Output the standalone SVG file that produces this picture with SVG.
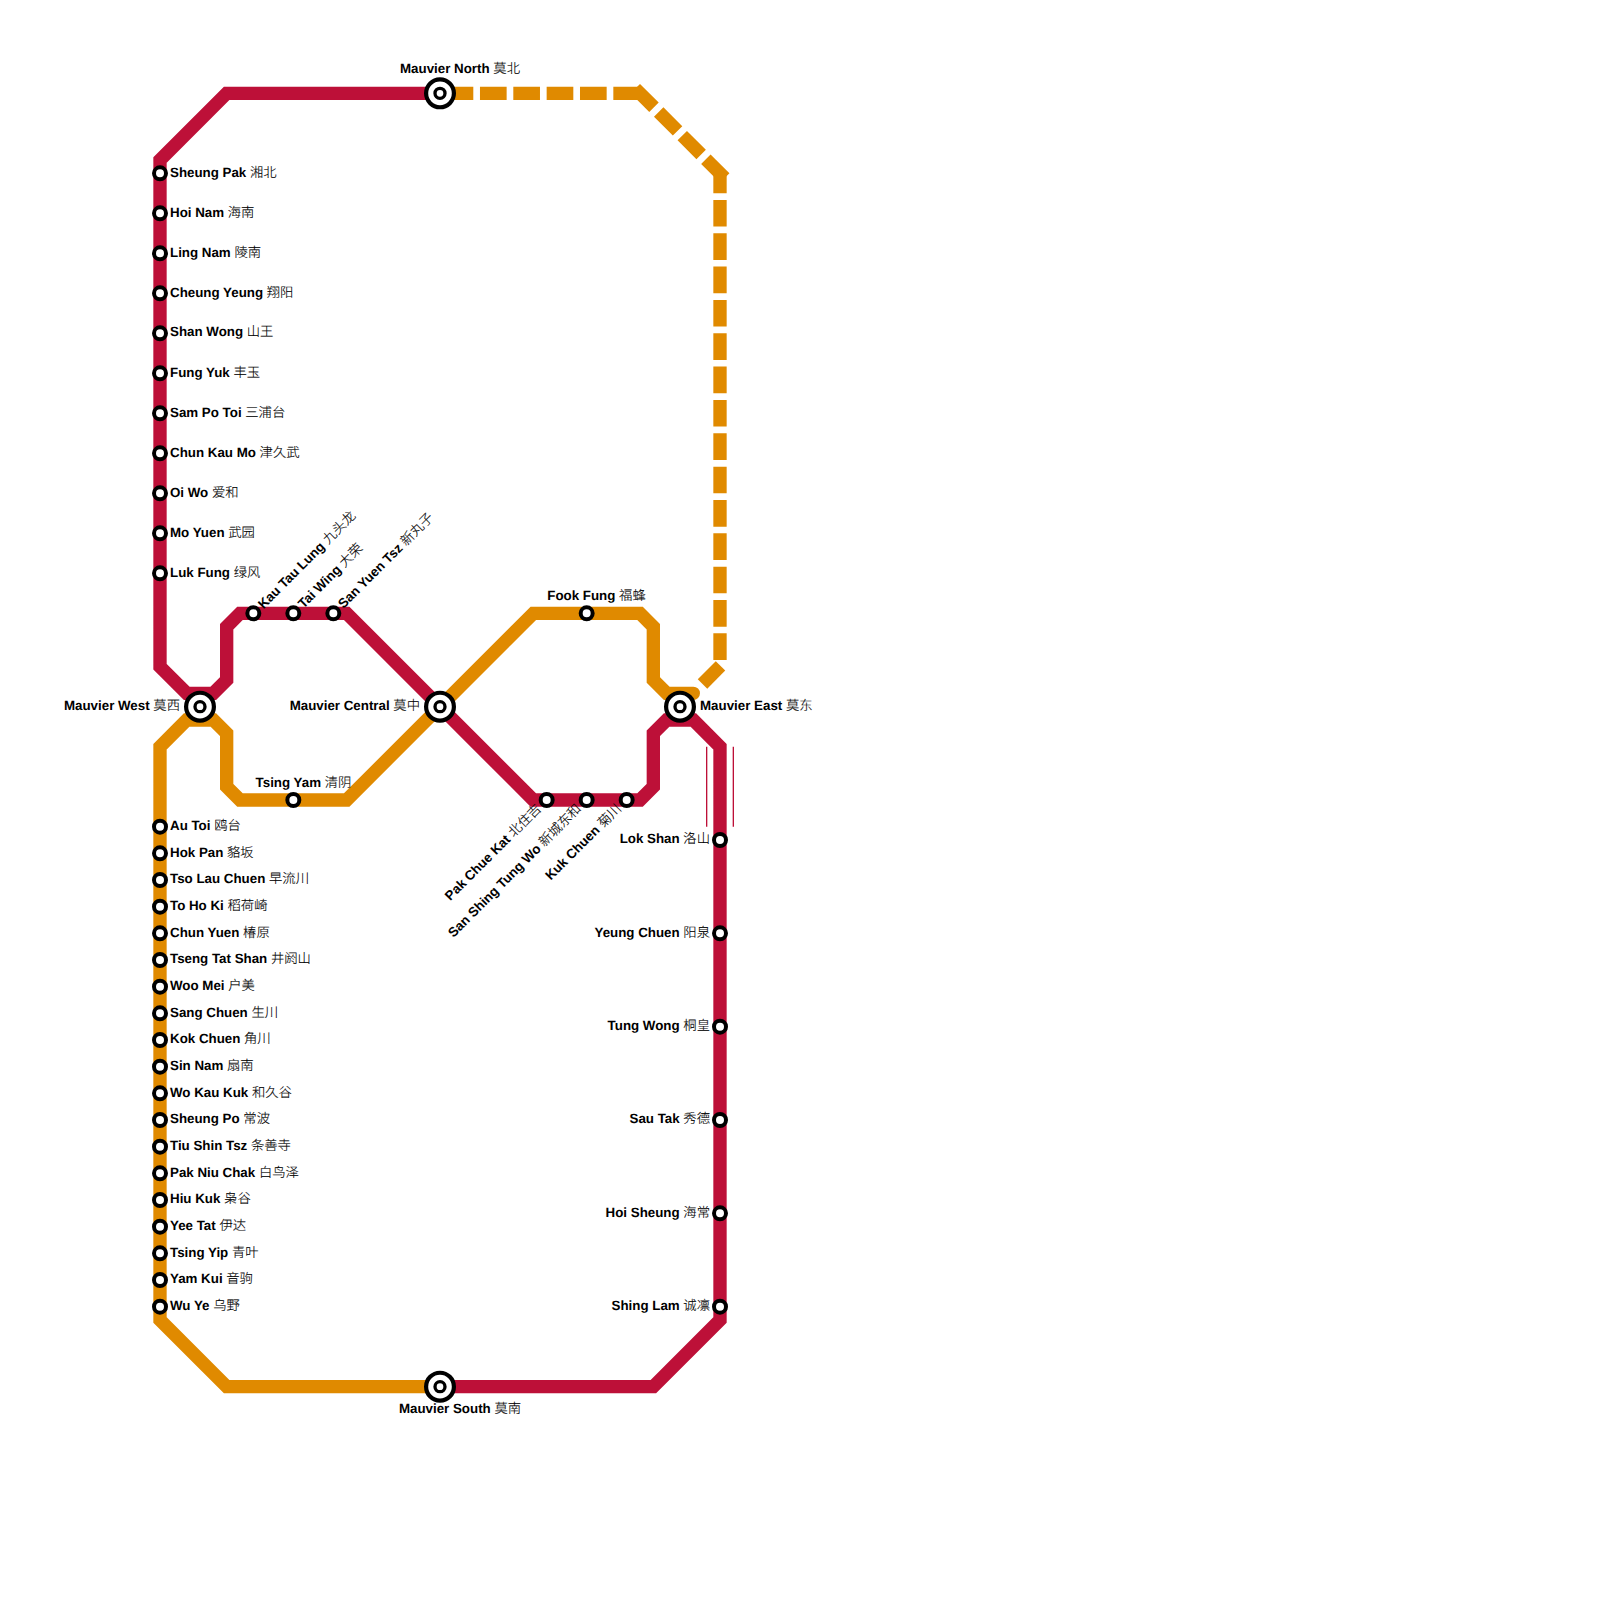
<svg xmlns="http://www.w3.org/2000/svg" width="1600" height="1600" viewBox="0 0 1600 1600">
<style>
.bg{fill:#fff}
.r,.o,.od{fill:none;stroke-width:13.33;stroke-linejoin:miter}
.r{stroke:#bd1038}
.o,.od{stroke:#e08a00}
.o{stroke-linecap:round}
.od{stroke-dasharray:26.67 6.67}
.thin{fill:none;stroke:#bd1038;stroke-width:1.33}
.s{fill:#fff;stroke:#000;stroke-width:4}
.i1{fill:#fff;stroke:#000;stroke-width:4.2}
.i2{fill:#fff;stroke:#000;stroke-width:3.33}
text{font-family:"Liberation Sans","Noto Sans CJK SC",sans-serif;font-size:13.33px;fill:#000;text-rendering:geometricPrecision}
.b{font-weight:700}
.c{font-family:"Noto Sans CJK SC","Liberation Sans",sans-serif;font-weight:300;stroke:#000;stroke-width:.12}
.e{text-anchor:end}
.m{text-anchor:middle}
</style>
<rect class="bg" width="1600" height="1600"/>
<g id="connectors">
<path class="r" d="M440 93.33H226.67L160 160V666.67L186.67 693.33H213.33L226.67 680V626.67L240 613.33H346.67L533.33 800H640L653.33 786.67V733.33L666.67 720H693.33L720 746.67V1320L653.33 1386.67H440"/>
<path class="o" d="M440 1386.67H226.67L160 1320V746.67L186.67 720H213.33L226.67 733.33V786.67L240 800H346.67L533.33 613.33H640L653.33 626.67V680L666.67 693.33H693.33"/>
<path class="od" d="M640 93.33H440"/>
<path class="od" d="M724.71 178.04L635.29 88.62"/>
<path class="od" d="M720 660V173.33"/>
<path class="od" d="M720.5 665.85L702.5 684"/>
<path class="thin" d="M706.67 746.67V826.67M733.33 746.67V826.67"/>
</g>
<g id="st-north"><circle class="i1" cx="440" cy="93.33" r="13.9"/><circle class="i2" cx="440" cy="93.33" r="5"/><text class="b m" x="460" y="73">Mauvier North <tspan class="c">莫北</tspan></text></g>
<g id="st-south"><circle class="i1" cx="440" cy="1386.67" r="13.9"/><circle class="i2" cx="440" cy="1386.67" r="5"/><text class="b m" x="460" y="1413">Mauvier South <tspan class="c">莫南</tspan></text></g>
<g id="st-west"><circle class="i1" cx="200" cy="706.67" r="13.9"/><circle class="i2" cx="200" cy="706.67" r="5"/><text class="b e" x="180" y="710">Mauvier West <tspan class="c">莫西</tspan></text></g>
<g id="st-central"><circle class="i1" cx="440" cy="706.67" r="13.9"/><circle class="i2" cx="440" cy="706.67" r="5"/><text class="b e" x="420" y="710">Mauvier Central <tspan class="c">莫中</tspan></text></g>
<g id="st-east"><circle class="i1" cx="680" cy="706.67" r="13.9"/><circle class="i2" cx="680" cy="706.67" r="5"/><text class="b" x="700" y="710">Mauvier East <tspan class="c">莫东</tspan></text></g>
<g id="st-sheung-pak"><circle class="s" cx="160" cy="173.33" r="6"/><text class="b" x="170" y="177">Sheung Pak <tspan class="c">湘北</tspan></text></g>
<g id="st-hoi-nam"><circle class="s" cx="160" cy="213.33" r="6"/><text class="b" x="170" y="217">Hoi Nam <tspan class="c">海南</tspan></text></g>
<g id="st-ling-nam"><circle class="s" cx="160" cy="253.33" r="6"/><text class="b" x="170" y="257">Ling Nam <tspan class="c">陵南</tspan></text></g>
<g id="st-cheung-yeung"><circle class="s" cx="160" cy="293.33" r="6"/><text class="b" x="170" y="297">Cheung Yeung <tspan class="c">翔阳</tspan></text></g>
<g id="st-shan-wong"><circle class="s" cx="160" cy="333.33" r="6"/><text class="b" x="170" y="336.4">Shan Wong <tspan class="c">山王</tspan></text></g>
<g id="st-fung-yuk"><circle class="s" cx="160" cy="373.33" r="6"/><text class="b" x="170" y="377">Fung Yuk <tspan class="c">丰玉</tspan></text></g>
<g id="st-sam-po-toi"><circle class="s" cx="160" cy="413.33" r="6"/><text class="b" x="170" y="417">Sam Po Toi <tspan class="c">三浦台</tspan></text></g>
<g id="st-chun-kau-mo"><circle class="s" cx="160" cy="453.33" r="6"/><text class="b" x="170" y="457">Chun Kau Mo <tspan class="c">津久武</tspan></text></g>
<g id="st-oi-wo"><circle class="s" cx="160" cy="493.33" r="6"/><text class="b" x="170" y="497">Oi Wo <tspan class="c">爱和</tspan></text></g>
<g id="st-mo-yuen"><circle class="s" cx="160" cy="533.33" r="6"/><text class="b" x="170" y="537">Mo Yuen <tspan class="c">武园</tspan></text></g>
<g id="st-luk-fung"><circle class="s" cx="160" cy="573.33" r="6"/><text class="b" x="170" y="577">Luk Fung <tspan class="c">绿风</tspan></text></g>
<g id="st-kau-tau-lung"><circle class="s" cx="253.33" cy="613.33" r="6"/><text class="b" transform="translate(263.5 609.5) rotate(-45)">Kau Tau Lung <tspan class="c">九头龙</tspan></text></g>
<g id="st-tai-wing"><circle class="s" cx="293.33" cy="613.33" r="6"/><text class="b" transform="translate(303.5 609) rotate(-45)">Tai Wing <tspan class="c">大荣</tspan></text></g>
<g id="st-san-yuen-tsz"><circle class="s" cx="333.33" cy="613.33" r="6"/><text class="b" transform="translate(343.5 609) rotate(-45)">San Yuen Tsz <tspan class="c">新丸子</tspan></text></g>
<g id="st-fook-fung"><circle class="s" cx="586.67" cy="613.33" r="6"/><text class="b m" x="596.5" y="600">Fook Fung <tspan class="c">福蜂</tspan></text></g>
<g id="st-tsing-yam"><circle class="s" cx="293.33" cy="800" r="6"/><text class="b m" x="303.5" y="787">Tsing Yam <tspan class="c">清阴</tspan></text></g>
<g id="st-pak-chue-kat"><circle class="s" cx="546.67" cy="800" r="6"/><text class="b e" transform="translate(542 809.5) rotate(-45)">Pak Chue Kat <tspan class="c">北住吉</tspan></text></g>
<g id="st-san-shing-tung-wo"><circle class="s" cx="586.67" cy="800" r="6"/><text class="b e" transform="translate(582 809.5) rotate(-45)">San Shing Tung Wo <tspan class="c">新城东和</tspan></text></g>
<g id="st-kuk-chuen"><circle class="s" cx="626.67" cy="800" r="6"/><text class="b e" transform="translate(622 809.5) rotate(-45)">Kuk Chuen <tspan class="c">菊川</tspan></text></g>
<g id="st-au-toi"><circle class="s" cx="160" cy="826.67" r="6"/><text class="b" x="170" y="830">Au Toi <tspan class="c">鸥台</tspan></text></g>
<g id="st-hok-pan"><circle class="s" cx="160" cy="853.33" r="6"/><text class="b" x="170" y="857">Hok Pan <tspan class="c">貉坂</tspan></text></g>
<g id="st-tso-lau-chuen"><circle class="s" cx="160" cy="880" r="6"/><text class="b" x="170" y="883.33">Tso Lau Chuen <tspan class="c">早流川</tspan></text></g>
<g id="st-to-ho-ki"><circle class="s" cx="160" cy="906.67" r="6"/><text class="b" x="170" y="910">To Ho Ki <tspan class="c">稻荷崎</tspan></text></g>
<g id="st-chun-yuen"><circle class="s" cx="160" cy="933.33" r="6"/><text class="b" x="170" y="937">Chun Yuen <tspan class="c">椿原</tspan></text></g>
<g id="st-tseng-tat-shan"><circle class="s" cx="160" cy="960" r="6"/><text class="b" x="170" y="963.33">Tseng Tat Shan <tspan class="c">井阏山</tspan></text></g>
<g id="st-woo-mei"><circle class="s" cx="160" cy="986.67" r="6"/><text class="b" x="170" y="990">Woo Mei <tspan class="c">户美</tspan></text></g>
<g id="st-sang-chuen"><circle class="s" cx="160" cy="1013.33" r="6"/><text class="b" x="170" y="1017">Sang Chuen <tspan class="c">生川</tspan></text></g>
<g id="st-kok-chuen"><circle class="s" cx="160" cy="1040" r="6"/><text class="b" x="170" y="1043.33">Kok Chuen <tspan class="c">角川</tspan></text></g>
<g id="st-sin-nam"><circle class="s" cx="160" cy="1066.67" r="6"/><text class="b" x="170" y="1070">Sin Nam <tspan class="c">扇南</tspan></text></g>
<g id="st-wo-kau-kuk"><circle class="s" cx="160" cy="1093.33" r="6"/><text class="b" x="170" y="1097">Wo Kau Kuk <tspan class="c">和久谷</tspan></text></g>
<g id="st-sheung-po"><circle class="s" cx="160" cy="1120" r="6"/><text class="b" x="170" y="1123.33">Sheung Po <tspan class="c">常波</tspan></text></g>
<g id="st-tiu-shin-tsz"><circle class="s" cx="160" cy="1146.67" r="6"/><text class="b" x="170" y="1150">Tiu Shin Tsz <tspan class="c">条善寺</tspan></text></g>
<g id="st-pak-niu-chak"><circle class="s" cx="160" cy="1173.33" r="6"/><text class="b" x="170" y="1177">Pak Niu Chak <tspan class="c">白鸟泽</tspan></text></g>
<g id="st-hiu-kuk"><circle class="s" cx="160" cy="1200" r="6"/><text class="b" x="170" y="1203.33">Hiu Kuk <tspan class="c">枭谷</tspan></text></g>
<g id="st-yee-tat"><circle class="s" cx="160" cy="1226.67" r="6"/><text class="b" x="170" y="1230">Yee Tat <tspan class="c">伊达</tspan></text></g>
<g id="st-tsing-yip"><circle class="s" cx="160" cy="1253.33" r="6"/><text class="b" x="170" y="1257">Tsing Yip <tspan class="c">青叶</tspan></text></g>
<g id="st-yam-kui"><circle class="s" cx="160" cy="1280" r="6"/><text class="b" x="170" y="1283.33">Yam Kui <tspan class="c">音驹</tspan></text></g>
<g id="st-wu-ye"><circle class="s" cx="160" cy="1306.67" r="6"/><text class="b" x="170" y="1310">Wu Ye <tspan class="c">乌野</tspan></text></g>
<g id="st-lok-shan"><circle class="s" cx="720" cy="840" r="6"/><text class="b e" x="710" y="843.33">Lok Shan <tspan class="c">洛山</tspan></text></g>
<g id="st-yeung-chuen"><circle class="s" cx="720" cy="933.33" r="6"/><text class="b e" x="710" y="937">Yeung Chuen <tspan class="c">阳泉</tspan></text></g>
<g id="st-tung-wong"><circle class="s" cx="720" cy="1026.67" r="6"/><text class="b e" x="710" y="1030">Tung Wong <tspan class="c">桐皇</tspan></text></g>
<g id="st-sau-tak"><circle class="s" cx="720" cy="1120" r="6"/><text class="b e" x="710" y="1123.33">Sau Tak <tspan class="c">秀德</tspan></text></g>
<g id="st-hoi-sheung"><circle class="s" cx="720" cy="1213.33" r="6"/><text class="b e" x="710" y="1217">Hoi Sheung <tspan class="c">海常</tspan></text></g>
<g id="st-shing-lam"><circle class="s" cx="720" cy="1306.67" r="6"/><text class="b e" x="710" y="1310">Shing Lam <tspan class="c">诚凛</tspan></text></g>
</svg>
